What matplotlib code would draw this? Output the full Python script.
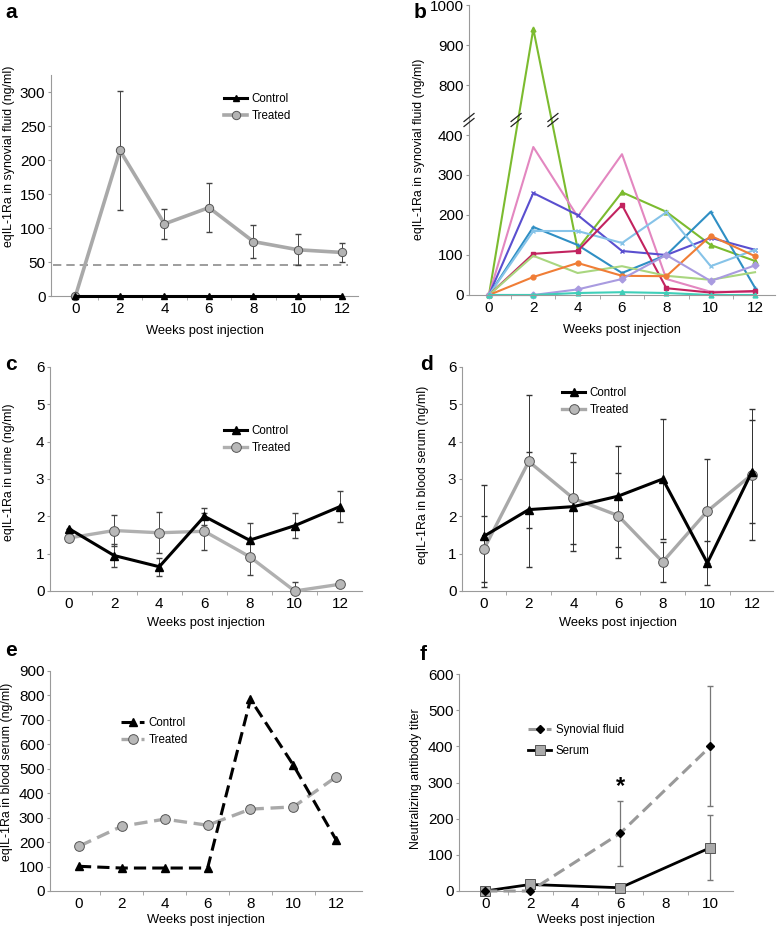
import numpy as np
import matplotlib
matplotlib.use("Agg")
import matplotlib.pyplot as plt
from matplotlib.lines import Line2D

plt.rcParams['font.family'] = ['Liberation Sans', 'DejaVu Sans']
plt.rcParams['font.size'] = 9

W, H = 777, 926

weeks = [0, 2, 4, 6, 8, 10, 12]

# a: synovial fluid
a_ctrl = [0, 0, 0, 0, 0, 0, 0]
a_trt = [0, 214, 106, 130, 80, 68, 64]
a_trt_err = [0, 88, 22, 36, 24, 23, 14]
a_lod = 45

# b: individual horses, synovial fluid
b_names = ['green', 'pink', 'purple', 'blue', 'lightblue', 'crimson',
           'lightgreen', 'orange', 'lavender', 'teal']
b_colors = ['#7cbb2f', '#e387c0', '#5a4fcf', '#2f8fc4', '#86c3e8', '#c2235f',
            '#a9d67f', '#f07d36', '#a99be0', '#3fcfb9']
b_markers = ['^', '', 'x', '+', 'x', 's', '', 'o', 'D', '^']
b_values = [
    [0, 940, 115, 257, 208, 125, 85],
    [0, 370, 196, 352, 40, 8, 8],
    [0, 255, 200, 110, 100, 143, 113],
    [0, 170, 125, 55, 100, 208, 18],
    [0, 160, 160, 130, 207, 72, 113],
    [0, 103, 110, 225, 17, 6, 10],
    [0, 98, 55, 72, 48, 38, 57],
    [0, 45, 80, 48, 47, 148, 97],
    [0, 0, 14, 40, 100, 35, 74],
    [0, 0, 5, 7, 5, 0, 0],
]

# c: urine
c_ctrl = [1.67, 0.95, 0.65, 2.0, 1.36, 1.75, 2.26]
c_ctrl_err = [0, 0.32, 0.24, 0.22, 0.46, 0.34, 0.42]
c_trt = [1.42, 1.62, 1.56, 1.6, 0.92, 0.0, 0.18]
c_trt_err = [0, 0.42, 0.55, 0.5, 0.5, 0.24, 0]

# d: blood serum
d_ctrl = [1.47, 2.18, 2.26, 2.54, 3.0, 0.75, 3.2]
d_ctrl_err = [1.37, 1.53, 1.2, 1.35, 1.6, 0.58, 1.37]
d_trt = [1.13, 3.47, 2.48, 2.02, 0.78, 2.14, 3.12]
d_trt_err = [0.89, 1.79, 1.22, 1.13, 0.53, 1.39, 1.75]

# e: blood serum
e_ctrl = [101, 94, 94, 94, 784, 515, 208]
e_trt = [183, 265, 294, 269, 335, 344, 467]

# f: neutralizing antibody titer
f_weeks = [0, 2, 6, 10]
f_syn = [0, 0, 160, 400]
f_syn_err = [0, 0, 90, 166]
f_ser = [0, 18, 9, 120]
f_ser_err = [0, 0, 0, 89]

fig = plt.figure(figsize=(W / 100, H / 100), dpi=100)


def make_ax(left, top, right, bottom):
    ax = fig.add_axes([left / W, 1 - bottom / H, (right - left) / W, (bottom - top) / H])
    for s in ['top', 'right']:
        ax.spines[s].set_visible(False)
    for s in ['left', 'bottom']:
        ax.spines[s].set_color('#9a9a9a')
        ax.spines[s].set_linewidth(0.8)
    ax.tick_params(axis='y', length=2, color='#9a9a9a', labelsize=11, pad=2)
    ax.tick_params(axis='x', which='major', length=0, labelsize=11, pad=4)
    ax.tick_params(axis='x', which='minor', length=3, color='#9a9a9a')
    return ax


def labels(ax, ylabel, ycx, ycy, xlab_off):
    ax.set_ylabel(ylabel, fontsize=8.9)
    ax.yaxis.set_label_coords(ycx, ycy)
    ax.set_xlabel('Weeks post injection', fontsize=9.3)
    ax.xaxis.set_label_coords(0.5, xlab_off)


def legend(ax, handles, names, x, y, spacing=0.45):
    ax.legend(handles, names, loc='upper left', bbox_to_anchor=(x / W, 1 - y / H),
              bbox_transform=fig.transFigure, frameon=False, fontsize=8.3,
              handlelength=2.0, handletextpad=0.4, labelspacing=spacing,
              borderaxespad=0, borderpad=0)


# ---- a ----
ax = make_ax(51, 75, 358, 296)
ax.hlines(a_lod, -1.0, 12.25, colors='#8c8c8c', linestyles=(0, (5, 3)), lw=1.2)
h1, = ax.plot(weeks, a_ctrl, color='black', lw=2.2, marker='^', ms=4, clip_on=False, zorder=4)
ax.errorbar(weeks, a_trt, yerr=a_trt_err, fmt='none', ecolor='#444444', elinewidth=0.7, capsize=2.5)
h2, = ax.plot(weeks, a_trt, color='#a9a9a9', lw=2.6, marker='o', ms=6, mfc='#b3b3b3',
              mec='#555555', mew=0.7, clip_on=False, zorder=3)
ax.set_xlim(-1.1, 12.7)
ax.set_ylim(0, 325)
ax.set_xticks(weeks)
ax.set_xticks([1, 3, 5, 7, 9, 11], minor=True)
ax.set_yticks([0, 50, 100, 150, 200, 250, 300])
labels(ax, 'eqIL-1Ra in synovial fluid (ng/ml)', -0.117, 0.63, -0.13)
legend(ax, [h1, h2], ['Control', 'Treated'], 224, 93)
fig.text(5 / W, 1 - 12 / H, 'a', fontsize=15, fontweight='bold', va='center')

# ---- b ----
lo, hi = 425.0, 725.0
gap = 25.0


def fwd(v):
    v = np.asarray(v, dtype=float)
    return np.where(v <= lo, v, np.where(v >= hi, v - (hi - lo) + gap,
                                         lo + (v - lo) * gap / (hi - lo)))


def inv(u):
    u = np.asarray(u, dtype=float)
    return np.where(u <= lo, u, np.where(u >= lo + gap, u + (hi - lo) - gap,
                                         lo + (u - lo) * (hi - lo) / gap))


ax = make_ax(469, 5, 775, 295)
ax.set_yscale('function', functions=(fwd, inv))
for vals, col, mk in zip(b_values, b_colors, b_markers):
    ax.plot(weeks, vals, color=col, lw=1.5, marker=mk if mk else None, ms=3.5,
            mew=1, clip_on=False)
ax.set_xlim(-0.9, 12.9)
ax.set_ylim(0, 1000)
ax.set_xticks(weeks)
ax.set_xticks([1, 3, 5, 7, 9, 11], minor=True)
ax.set_yticks([0, 100, 200, 300, 400, 800, 900, 1000])
ax.set_yticklabels(['0', '100', '200', '300', '400', '800', '900', '1000'])
ax.yaxis.set_minor_locator(matplotlib.ticker.NullLocator())
labels(ax, 'eqIL-1Ra in synovial fluid (ng/ml)', -0.144, 0.503, -0.1)
# break marks on axis and on the green line
ymid = 575
g = b_values[0]
xs = [-0.9, ymid / g[1] * 2, 2 + (g[1] - ymid) / (g[1] - g[2]) * 2]
for xb in xs:
    px, py = ax.transData.transform((xb, ymid))
    for dy in (-2.5, 2.5):
        fig.add_artist(Line2D([(px - 5) / W, (px + 5) / W],
                              [(py + dy - 4) / H, (py + dy + 4) / H],
                              color='#222222', lw=0.9))
fig.text(414 / W, 1 - 12 / H, 'b', fontsize=15, fontweight='bold', va='center')

# ---- c ----
ax = make_ax(50, 367, 362, 591)
ax.errorbar(weeks, c_ctrl, yerr=c_ctrl_err, fmt='none', ecolor='#444444', elinewidth=0.7, capsize=2.5)
ax.errorbar(weeks, c_trt, yerr=c_trt_err, fmt='none', ecolor='#444444', elinewidth=0.7, capsize=2.5)
h2, = ax.plot(weeks, c_trt, color='#b0b0b0', lw=2.4, marker='o', ms=7, mfc='#b8b8b8',
              mec='#555555', mew=0.7, clip_on=False, zorder=3)
h1, = ax.plot(weeks, c_ctrl, color='black', lw=2.2, marker='^', ms=6, clip_on=False, zorder=4)
ax.set_xlim(-0.84, 12.98)
ax.set_ylim(0, 6)
ax.set_xticks(weeks)
ax.set_xticks([1, 3, 5, 7, 9, 11], minor=True)
labels(ax, 'eqIL-1Ra in urine (ng/ml)', -0.112, 0.53, -0.115)
legend(ax, [h1, h2], ['Control', 'Treated'], 224, 425)
fig.text(5 / W, 1 - 365 / H, 'c', fontsize=15, fontweight='bold', va='center')

# ---- d ----
ax = make_ax(462, 367, 773, 591)
ax.errorbar(weeks, d_ctrl, yerr=d_ctrl_err, fmt='none', ecolor='#333333', elinewidth=0.7, capsize=2.5)
ax.errorbar(weeks, d_trt, yerr=d_trt_err, fmt='none', ecolor='#333333', elinewidth=0.7, capsize=2.5)
h2, = ax.plot(weeks, d_trt, color='#a9a9a9', lw=2.4, marker='o', ms=7, mfc='#b8b8b8',
              mec='#555555', mew=0.7, clip_on=False, zorder=3)
h1, = ax.plot(weeks, d_ctrl, color='black', lw=2.2, marker='^', ms=6, clip_on=False, zorder=4)
ax.set_xlim(-0.99, 12.94)
ax.set_ylim(0, 6)
ax.set_xticks(weeks)
ax.set_xticks([1, 3, 5, 7, 9, 11], minor=True)
labels(ax, 'eqIL-1Ra in blood serum (ng/ml)', -0.106, 0.518, -0.115)
legend(ax, [h1, h2], ['Control', 'Treated'], 562, 387)
fig.text(420 / W, 1 - 365 / H, 'd', fontsize=15, fontweight='bold', va='center')

# ---- e ----
ax = make_ax(50, 671, 362, 891)
h2, = ax.plot(weeks, e_trt, color='#a9a9a9', lw=2.4, ls=(0, (4, 2)), marker='o', ms=7,
              mfc='#b8b8b8', mec='#555555', mew=0.7, clip_on=False, zorder=3)
h1, = ax.plot(weeks, e_ctrl, color='black', lw=2.2, ls=(0, (4, 2)), marker='^', ms=6,
              clip_on=False, zorder=4)
ax.set_xlim(-1.35, 13.2)
ax.set_ylim(0, 900)
ax.set_xticks(weeks)
ax.set_xticks([1, 3, 5, 7, 9, 11], minor=True)
ax.set_yticks(range(0, 901, 100))
labels(ax, 'eqIL-1Ra in blood serum (ng/ml)', -0.118, 0.54, -0.105)
legend(ax, [h1, h2], ['Control', 'Treated'], 121, 717)
fig.text(5 / W, 1 - 650 / H, 'e', fontsize=15, fontweight='bold', va='center')

# ---- f ----
ax = make_ax(459, 674, 733, 891)
ax.errorbar(f_weeks, f_syn, yerr=f_syn_err, fmt='none', ecolor='#777777', elinewidth=0.9, capsize=2.5)
ax.errorbar(f_weeks, f_ser, yerr=f_ser_err, fmt='none', ecolor='#777777', elinewidth=0.9, capsize=2.5)
h2, = ax.plot(f_weeks, f_ser, color='black', lw=2.0, marker='s', ms=6.5, mfc='#aaaaaa',
              mec='#555555', mew=0.7, clip_on=False, zorder=3)
h1, = ax.plot(f_weeks, f_syn, color='#999999', lw=2.2, ls=(0, (4, 2)), marker='D', ms=4,
              mfc='black', mec='black', clip_on=False, zorder=4)
ax.text(6, 290, '*', ha='center', va='center', fontsize=17, fontweight='bold')
ax.set_xlim(-1.16, 11.0)
ax.set_ylim(0, 600)
ax.set_xticks([0, 2, 4, 6, 8, 10])
ax.set_xticks([1, 3, 5, 7, 9], minor=True)
labels(ax, 'Neutralizing antibody titer', -0.135, 0.52, -0.105)
legend(ax, [h1, h2], ['Synovial fluid', 'Serum'], 528, 724, spacing=0.8)
fig.text(420 / W, 1 - 655 / H, 'f', fontsize=15, fontweight='bold', va='center')

fig.savefig('out.png', dpi=100)
